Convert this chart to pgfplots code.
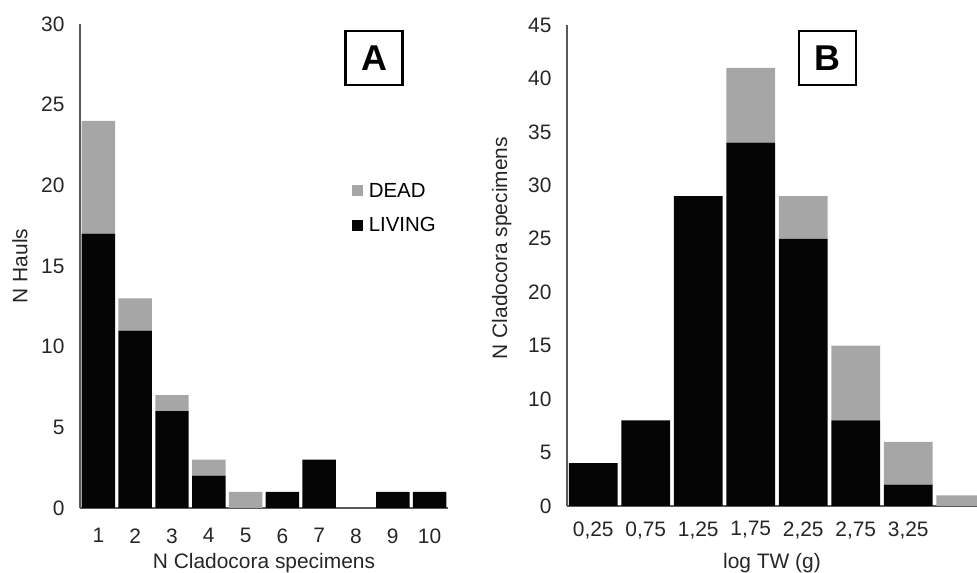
\documentclass[border=0pt]{standalone}
\usepackage{fontspec}
\setmainfont{Liberation Sans}
\usepackage{pgfplots}
\pgfplotsset{compat=1.18}
\definecolor{living}{HTML}{050505}
\definecolor{dead}{HTML}{A6A6A6}
\definecolor{axisgray}{HTML}{595959}

\pgfplotsset{
  panel/.style={
    scale only axis,
    axis x line=bottom, axis y line=left,
    axis line style={-, axisgray, line width=1.2bp},
    ybar stacked,
    ymin=0,
    major tick length=0pt,
    tick label style={font=\fontsize{21}{25}\selectfont, text=black!85},
    yticklabel style={xshift=-12bp},
    label style={font=\fontsize{21}{25}\selectfont, text=black!85},
    /pgf/number format/assume math mode=true,
  },
}
\tikzset{
  boxlabel/.style={draw, line width=2.4bp, minimum width=57bp, minimum height=54bp,
    inner sep=0pt, font=\fontsize{36}{40}\selectfont\bfseries},
}

\begin{document}
\begin{tikzpicture}
\useasboundingbox (0,0) rectangle (977bp,573bp);

% Panel A
\begin{axis}[panel, at={(80bp,65bp)}, anchor=south west,
  width=368bp, height=484bp,
  xmin=0.5, xmax=10.5, ymax=30,
  xtick={1,...,10}, ytick={0,5,...,30},
  xticklabel style={yshift=-17bp},
  bar width=0.91,
  xlabel={N Cladocora specimens}, ylabel={N Hauls},
  xlabel style={at={(axis description cs:0.5,-0.124)}, anchor=base},
  ylabel style={at={(axis description cs:-0.163,0.5)}, anchor=center},
  reverse legend,
  legend style={draw=none, fill=none, at={(0.73,0.68)}, anchor=north west,
    font=\fontsize{20.5}{24}\selectfont, row sep=15bp, column sep=4bp,
    legend cell align=left},
  legend image code/.code={\fill[#1] (0bp,-5.5bp) rectangle (11bp,5.5bp);},
]
\addplot[fill=living, draw=none] coordinates
  {(1,17) (2,11) (3,6) (4,2) (5,0) (6,1) (7,3) (8,0) (9,1) (10,1)};
\addlegendentry{LIVING}
\addplot[fill=dead, draw=none] coordinates
  {(1,7) (2,2) (3,1) (4,1) (5,1) (6,0) (7,0) (8,0) (9,0) (10,0)};
\addlegendentry{DEAD}
\node[boxlabel] at (axis description cs:0.799,0.930) {A};
\end{axis}

% Panel B
\begin{axis}[panel, at={(567bp,67bp)}, anchor=south west,
  width=410bp, height=481bp,
  xmin=0, xmax=3.905, ymax=45,
  xtick={0.25,0.75,1.25,1.75,2.25,2.75,3.25},
  xticklabels={{0,25},{0,75},{1,25},{1,75},{2,25},{2,75},{3,25}},
  xticklabel style={yshift=-12bp},
  ytick={0,5,...,45},
  bar width=0.465,
  xlabel={log TW (g)}, ylabel={N Cladocora specimens},
  xlabel style={at={(axis description cs:0.5,-0.129)}, anchor=base},
  ylabel style={at={(axis description cs:-0.159,0.536)}, anchor=center},
]
\addplot[fill=living, draw=none] coordinates
  {(0.25,4) (0.75,8) (1.25,29) (1.75,34) (2.25,25) (2.75,8) (3.25,2) (3.75,0)};
\addplot[fill=dead, draw=none] coordinates
  {(0.25,0) (0.75,0) (1.25,0) (1.75,7) (2.25,4) (2.75,7) (3.25,4) (3.75,1)};
\node[boxlabel] at (axis description cs:0.635,0.931) {B};
\end{axis}
\end{tikzpicture}
\end{document}
